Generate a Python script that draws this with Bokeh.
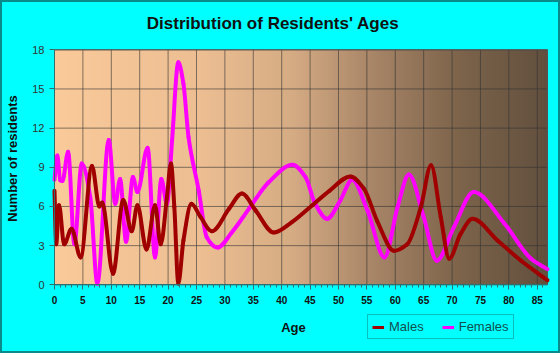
import numpy as np
from bokeh.plotting import figure
from bokeh.models import Label, Legend, LegendItem, ColumnDataSource, FixedTicker
from bokeh.embed import file_html
from bokeh.resources import INLINE

# ---- data ----
ages_m = [0, 0.3, 0.8, 1.7, 3.0, 4.6, 6.6, 7.9, 8.4, 10.3, 12.1, 13.6, 14.6, 16.2,
          17.7, 18.7, 19.8, 20.5, 21.1, 21.8, 22.7, 24.1, 25.7, 27.7, 30.7, 33.0,
          35.4, 38.6, 41.8, 45.4, 48.4, 52.1, 54.5, 56.8, 59.8, 62.1, 64.5, 66.3,
          68.0, 69.5, 71.5, 73.6, 78.0, 82.1, 86.8]
vals_m = [7.2, 3.1, 6.1, 3.1, 4.3, 2.1, 9.1, 6.0, 6.3, 0.85, 6.5, 4.1, 6.1, 2.7,
          6.1, 3.1, 6.7, 9.3, 5.95, 0.1, 3.4, 6.2, 5.2, 4.1, 5.8, 7.0,
          5.7, 4.0, 4.8, 6.1, 7.2, 8.3, 7.35, 4.9, 2.6, 3.1, 5.95, 9.15,
          5.2, 2.0, 3.9, 5.05, 3.4, 1.86, 0.35]
ages_f = [0, 0.5, 1.0, 1.4, 2.4, 3.5, 4.8, 6.3, 7.55, 9.55, 10.7, 11.55, 12.6, 13.8,
          14.6, 16.4, 17.7, 18.8, 19.8, 20.7, 21.8, 22.7, 23.6, 25.4, 26.8, 28.7,
          31.2, 34.2, 37.7, 41.9, 44.2, 45.9, 48.0, 50.3, 52.4, 55.1, 58.1, 60.4,
          62.4, 65.0, 67.3, 70.3, 73.8, 79.2, 83.9, 86.8]
vals_f = [8.05, 9.9, 8.0, 7.95, 10.2, 3.1, 9.3, 6.7, 0.08, 11.1, 6.2, 8.1, 3.3, 8.25,
          7.1, 10.5, 2.1, 8.1, 6.2, 11.05, 17.05, 15.4, 11.3, 7.2, 3.65, 2.85,
          4.0, 5.8, 7.85, 9.2, 8.25, 6.2, 5.05, 6.45, 8.05, 5.7, 2.1, 5.95,
          8.45, 5.2, 1.85, 4.4, 7.1, 4.7, 2.0, 1.2]
x_ticks = list(range(0, 90, 5))
x_minor = list(range(0, 87))
y_ticks = [0, 3, 6, 9, 12, 15, 18]
series_names = ["Males", "Females"]
title_text = "Distribution of Residents' Ages"
x_label = "Age"
y_label = "Number of residents"

# ---- layout (pixel geometry of the plot area) ----
W, H = 560, 353
PL, PR, PT, PB = 54.0, 547.0, 49.3, 284.3
X0, X1 = 0.0, 86.8
Y0, Y1 = 0.0, 18.0
kx = (PR - PL) / (X1 - X0)
ky = (PB - PT) / (Y1 - Y0)


def sx(px):
    return X0 + (px - PL) / kx


def sy(py):
    return Y0 + (PB - py) / ky


p = figure(width=W, height=H, x_range=(sx(0), sx(W)), y_range=(sy(H), sy(0)),
           output_backend="svg", toolbar_location=None,
           min_border_left=0, min_border_right=0, min_border_top=0,
           min_border_bottom=0)
p.title.visible = False
p.background_fill_color = "#00FFFF"
p.border_fill_color = "#00FFFF"
p.outline_line_color = "#0b8a8a"
p.outline_line_width = 3
p.xgrid.visible = False
p.ygrid.visible = False

# background gradient of the plot area (style only)
stops_f = [0.0, 0.30, 0.48, 0.64, 0.82, 1.0]
stops_c = [(250, 202, 154), (236, 190, 146), (214, 172, 132),
           (170, 135, 105), (125, 100, 75), (98, 80, 62)]
N = 300
f = np.linspace(0, 1, N)
img = np.zeros((1, N), dtype=np.uint32)
view = img.view(dtype=np.uint8).reshape((1, N, 4))
for ci in range(3):
    view[0, :, ci] = np.interp(f, stops_f, [c[ci] for c in stops_c]).astype(np.uint8)
view[0, :, 3] = 255
bg = p.image_rgba(image=[img], x=X0, y=Y0, dw=X1 - X0, dh=Y1 - Y0)
bg.level = "image"

# grid lines, limited to the plot area
gx = [t for t in x_ticks if X0 < t < X1]
gy = [t for t in y_ticks if Y0 < t <= Y1]
p.segment(x0=gx, y0=[Y0] * len(gx), x1=gx, y1=[Y1] * len(gx),
          line_color="#333333", line_alpha=0.6, line_width=1, level="underlay")
p.segment(x0=[X0] * len(gy), y0=gy, x1=[X1] * len(gy), y1=gy,
          line_color="#333333", line_alpha=0.6, line_width=1, level="underlay")
p.quad(left=[X0], right=[X1], bottom=[Y0], top=[Y1], fill_color=None,
       line_color="#555555", line_width=1, level="underlay")

# axes fixed at the plot-area origin
for ax in (p.xaxis, p.yaxis):
    ax.fixed_location = 0
    ax.axis_line_color = "#2f6f6f"
    ax.major_tick_line_color = "#2f6f6f"
    ax.minor_tick_line_color = "#2f6f6f"
    ax.major_label_text_font = "Liberation Sans"
    ax.major_tick_in = 0
    ax.minor_tick_in = 0
p.xaxis.bounds = (X0, X1)
p.yaxis.bounds = (Y0, Y1)
p.xaxis.ticker = FixedTicker(ticks=x_ticks, minor_ticks=x_minor)
p.yaxis.ticker = FixedTicker(ticks=y_ticks)
p.xaxis.major_tick_out = 5
p.xaxis.minor_tick_out = 3
p.yaxis.major_tick_out = 5
p.yaxis.minor_tick_out = 0
p.xaxis.major_label_standoff = 6
p.yaxis.major_label_standoff = 5
p.xaxis.major_label_text_font_size = "10px"
p.xaxis.major_label_text_font_style = "bold"
p.xaxis.major_label_text_color = "#111111"
p.yaxis.major_label_text_font_size = "11px"
p.yaxis.major_label_text_color = "#333333"


def bezier_source(xs, ys):
    xs = np.asarray(xs, float)
    ys = np.asarray(ys, float)
    h = np.diff(xs)
    d = np.diff(ys) / h
    n = len(xs)
    m = np.zeros(n)
    m[0] = d[0]
    m[-1] = d[-1]
    for k in range(1, n - 1):
        if d[k - 1] * d[k] > 0:
            w1 = 2 * h[k] + h[k - 1]
            w2 = h[k] + 2 * h[k - 1]
            m[k] = (w1 + w2) / (w1 / d[k - 1] + w2 / d[k])
    return ColumnDataSource(dict(
        x0=xs[:-1], y0=ys[:-1], x1=xs[1:], y1=ys[1:],
        cx0=xs[:-1] + h / 3, cy0=ys[:-1] + m[:-1] * h / 3,
        cx1=xs[1:] - h / 3, cy1=ys[1:] - m[1:] * h / 3))


COL_M = "#A00000"
COL_F = "#FF00FF"
LW = 4

p.bezier(x0="x0", y0="y0", x1="x1", y1="y1", cx0="cx0", cy0="cy0",
         cx1="cx1", cy1="cy1", source=bezier_source(ages_f, vals_f),
         line_color=COL_F, line_width=LW, line_cap="round")
p.bezier(x0="x0", y0="y0", x1="x1", y1="y1", cx0="cx0", cy0="cy0",
         cx1="cx1", cy1="cy1", source=bezier_source(ages_m, vals_m),
         line_color=COL_M, line_width=LW, line_cap="round")

# legend proxies: zero-length lines at each series' first point (invisible on the plot)
lm = p.line(x=[ages_m[0], ages_m[0]], y=[vals_m[0], vals_m[0]],
            line_color=COL_M, line_width=3, line_cap="butt")
lf = p.line(x=[ages_f[0], ages_f[0]], y=[vals_f[0], vals_f[0]],
            line_color=COL_F, line_width=3, line_cap="butt")
legend = Legend(items=[LegendItem(label=series_names[0], renderers=[lm]),
                       LegendItem(label=series_names[1], renderers=[lf])],
                orientation="horizontal", location=(367, 14))
legend.background_fill_color = "#00FFFF"
legend.background_fill_alpha = 1
legend.border_line_color = "#168080"
legend.border_line_width = 1
legend.label_text_font = "Liberation Sans"
legend.label_text_font_size = "13px"
legend.label_text_color = "#134f4f"
legend.glyph_width = 12
legend.glyph_height = 12
legend.label_standoff = 5
legend.label_height = 15
legend.spacing = 18
legend.padding = 4
legend.margin = 0
p.add_layout(legend)

# texts
p.add_layout(Label(x=sx(272.5), y=sy(23), text=title_text,
                   text_align="center", text_baseline="middle",
                   text_font="Liberation Sans", text_font_style="bold",
                   text_font_size="17px", text_color="#111111"))
p.add_layout(Label(x=sx(12), y=sy(158), text=y_label, angle=np.pi / 2,
                   text_align="center", text_baseline="middle",
                   text_font="Liberation Sans", text_font_style="bold",
                   text_font_size="13px", text_color="#111111"))
p.add_layout(Label(x=sx(293), y=sy(327), text=x_label,
                   text_align="center", text_baseline="middle",
                   text_font="Liberation Sans", text_font_style="bold",
                   text_font_size="13px", text_color="#111111"))

open("out.html", "w").write(file_html(p, INLINE))
